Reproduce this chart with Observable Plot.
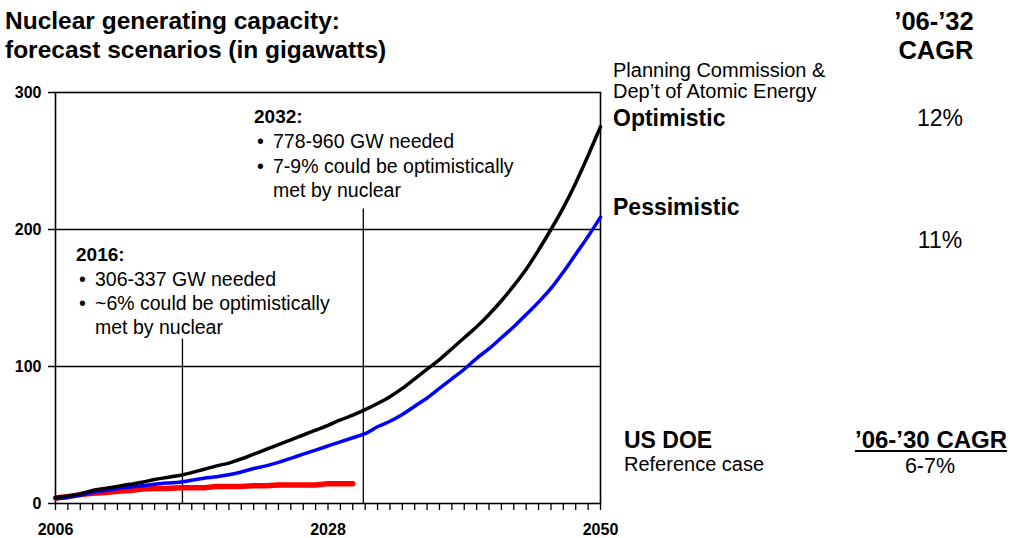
<!DOCTYPE html>
<html>
<head>
<meta charset="utf-8">
<script src="https://cdn.jsdelivr.net/npm/d3@7"></script>
<script src="https://cdn.jsdelivr.net/npm/@observablehq/plot@0.6"></script>
<style>
  body { margin: 0; background: #fff; }
  #wrap { position: relative; width: 1010px; height: 538px; font-family: "Liberation Sans", Arial, sans-serif; color: #000; }
  #wrap svg { position: absolute; left: 0; top: 0; }
  .t { position: absolute; line-height: 1; white-space: nowrap; }
  .b { font-weight: bold; }
</style>
</head>
<body>
<div id="wrap"></div>
<script>
// Years (x) and scenario values (GW)
const years = d3.range(2006, 2051);
const optimistic = [4.4, 5.5, 7, 9.5, 11, 12.5, 14, 15.5, 17.5, 19, 20.5, 22.5, 25, 27.5, 29.5, 32.5, 36, 39.5, 43, 46.5, 50, 53.5, 57, 61, 64.5, 68.5, 73, 78, 84, 91, 98, 105, 113, 121, 129, 138, 148, 159, 171, 185, 200, 216, 234, 254, 275];
const pessimistic = [3.5, 4.5, 6, 8, 9.5, 11, 12, 13, 14, 15, 15.5, 17, 18.5, 19.5, 21, 23, 25.5, 27.5, 30, 33, 36, 39, 42, 45, 48, 51, 56, 60, 65, 71, 77, 84, 91, 98, 106, 113, 121, 129, 138, 147, 157, 169, 182, 195, 209];
const doeYears = d3.range(2006, 2031);
const doeReference = [4, 5, 6.5, 7.5, 8, 9, 9.5, 10.5, 11, 11, 11.5, 11.5, 11.5, 12.5, 12.5, 12.5, 13, 13, 13.5, 13.5, 13.5, 13.5, 14.5, 14.5, 14.5];

const yTicks = [0, 100, 200, 300];
const xLabelTicks = [2006, 2028, 2050];
const gridValues = [100, 200];
// annotation marker lines: x position and top value
const markerX = [2016.25, 2030.85];
const markerTop = [120, 215];

const optData = years.map((y, i) => ({year: y, gw: optimistic[i]}));
const pesData = years.map((y, i) => ({year: y, gw: pessimistic[i]}));
const doeData = doeYears.map((y, i) => ({year: y, gw: doeReference[i]}));
const markers = markerX.map((x, i) => ({x, top: markerTop[i]}));

const chart = Plot.plot({
  width: 1010,
  height: 538,
  marginLeft: 55,
  marginRight: 410,
  marginTop: 92,
  marginBottom: 35,
  style: {fontFamily: '"Liberation Sans", Arial, sans-serif', background: "transparent"},
  x: {domain: [2006, 2050]},
  y: {domain: [0, 300]},
  marks: [
    Plot.ruleY(gridValues, {stroke: "#000", strokeWidth: 1.3}),
    Plot.ruleX(markers, {x: "x", y1: 0, y2: "top", stroke: "#000", strokeWidth: 1.3}),
    Plot.frame({stroke: "#000", strokeWidth: 1.6}),
    Plot.axisY({ticks: yTicks, tickSize: 7, tickPadding: 7, tickFormat: d => String(d), fontSize: 16, fontWeight: "bold", label: null, stroke: "#000", strokeWidth: 1.5}),
    Plot.axisX({ticks: years, tickSize: 7, tickFormat: () => "", label: null, stroke: "#000", strokeWidth: 1.3}),
    Plot.axisX({ticks: xLabelTicks, tickSize: 0, tickPadding: 20, tickFormat: d => String(d), fontSize: 16, fontWeight: "bold", label: null}),
    Plot.line(doeData, {x: "year", y: "gw", stroke: "#ff0000", strokeWidth: 5.5, curve: "linear"}),
    Plot.line(pesData, {x: "year", y: "gw", stroke: "#0000ff", strokeWidth: 3.5, curve: "monotone-x"}),
    Plot.line(optData, {x: "year", y: "gw", stroke: "#000", strokeWidth: 3.5, curve: "monotone-x"})
  ]
});

const wrap = document.getElementById("wrap");
wrap.appendChild(chart);

// Text overlays: [text, left (or centre if "c"), top, size, bold, mode]
const texts = [
  ["Nuclear generating capacity:", 5, 9, 24.5, true],
  ["forecast scenarios (in gigawatts)", 5, 38, 24.5, true],
  ["\u201906-\u201932", 934, 8.5, 25.5, true, "c"],
  ["CAGR", 936, 37.5, 25.5, true, "c"],
  ["Planning Commission &", 613, 59.5, 20, false],
  ["Dep\u2019t of Atomic Energy", 613, 80.5, 20, false],
  ["Optimistic", 613, 107, 23, true],
  ["12%", 940, 106.6, 23, false, "c"],
  ["Pessimistic", 613, 196, 23, true],
  ["11%", 940, 228.8, 23, false, "c"],
  ["US DOE", 624, 429, 23, true],
  ["Reference case", 624, 453.5, 20, false],
  ["\u201906-\u201930 CAGR", 855, 428, 24, true, "u"],
  ["6-7%", 930, 455.5, 21.5, false, "c"],
  ["2032:", 254, 107, 19, true],
  ["\u2022", 257, 131.8, 19.5, false],
  ["778-960 GW needed", 273, 131.8, 19.5, false],
  ["\u2022", 257, 156.8, 19.5, false],
  ["7-9% could be optimistically", 273, 156.8, 19.5, false],
  ["met by nuclear", 273, 180.8, 19.5, false],
  ["2016:", 76, 245, 19, true],
  ["\u2022", 79, 269.8, 19.5, false],
  ["306-337 GW needed", 95, 269.8, 19.5, false],
  ["\u2022", 79, 293.8, 19.5, false],
  ["~6% could be optimistically", 95, 293.8, 19.5, false],
  ["met by nuclear", 95, 317.8, 19.5, false]
];
for (const [s, x, y, size, bold, mode] of texts) {
  const d = document.createElement("div");
  d.className = "t" + (bold ? " b" : "");
  d.textContent = s;
  d.style.left = x + "px";
  d.style.top = y + "px";
  d.style.fontSize = size + "px";
  if (mode === "u") d.style.textDecoration = "underline";
  if (mode === "c") d.style.transform = "translateX(-50%)";
  wrap.appendChild(d);
}
</script>
</body>
</html>
